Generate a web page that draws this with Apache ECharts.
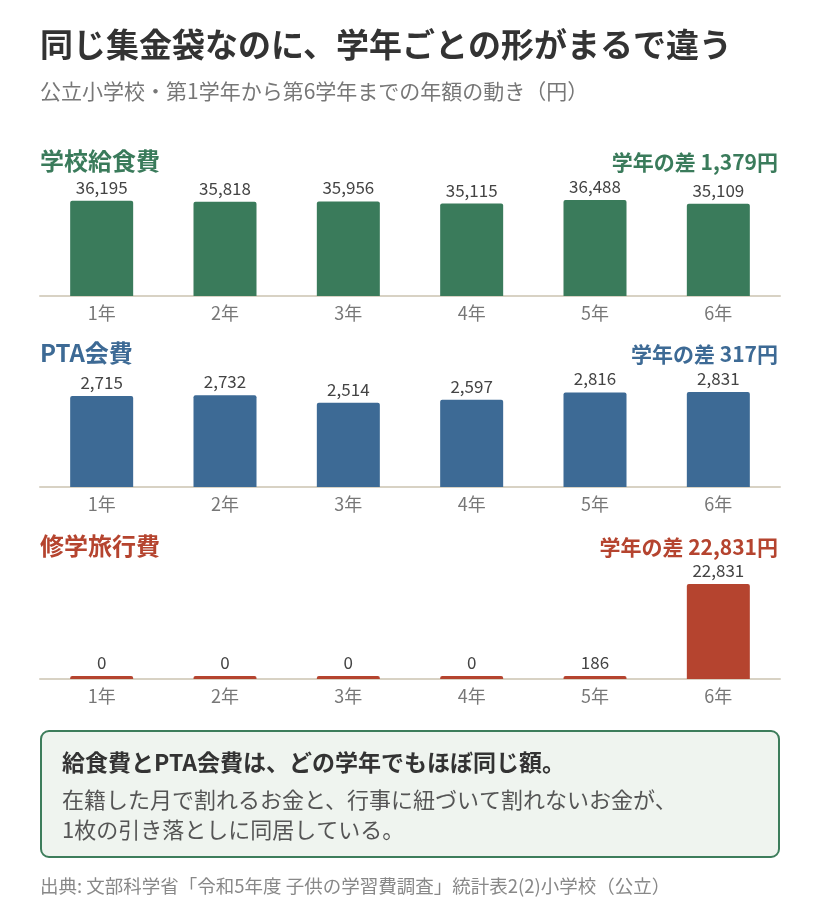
<!DOCTYPE html>
<html>
<head>
<meta charset="utf-8">
<title>学年ごとの集金額</title>
<script src="https://cdn.jsdelivr.net/npm/echarts@6/dist/echarts.min.js"></script>
<style>
  html, body { margin: 0; padding: 0; background: #fff; }
  #chart { width: 820px; height: 918px; }
</style>
</head>
<body>
<div id="chart"></div>
<script>
// 学年
var grades = ['1年', '2年', '3年', '4年', '5年', '6年'];
// 各費目の年額（円）
var lunchFee = [36195, 35818, 35956, 35115, 36488, 35109];
var ptaFee = [2715, 2732, 2514, 2597, 2816, 2831];
var tripFee = [0, 0, 0, 0, 186, 22831];

var FONT = '"Noto Sans CJK JP", "Noto Sans", sans-serif';

// 費目ごとの設定
var panels = [
    { name: '学校給食費', data: lunchFee, color: '#3a7b5b', top: 200, bottom: 622, head: 149 },
    { name: 'PTA会費', data: ptaFee, color: '#3d6a95', top: 392, bottom: 431, head: 341 },
    { name: '修学旅行費', data: tripFee, color: '#b5442f', top: 584, bottom: 239, head: 534 }
];

function fmt(v) {
    return v.toLocaleString('en-US');
}

var titles = [
    {
        text: '同じ集金袋なのに、学年ごとの形がまるで違う',
        left: 40, top: 28, padding: 0,
        textStyle: { fontFamily: FONT, fontSize: 33, fontWeight: 'bold', color: '#333' }
    },
    {
        text: '公立小学校・第1学年から第6学年までの年額の動き（円）',
        left: 40, top: 81, padding: 0,
        textStyle: { fontFamily: FONT, fontSize: 21, fontWeight: 'normal', color: '#777' }
    }
];
var grids = [], xAxes = [], yAxes = [], series = [];

panels.forEach(function(p, i) {
    var diff = Math.max.apply(null, p.data) - Math.min.apply(null, p.data);
    titles.push({
        text: p.name,
        left: 40, top: p.head, padding: 0,
        textStyle: { fontFamily: FONT, fontSize: 24, fontWeight: 'bold', color: p.color }
    });
    titles.push({
        text: '学年の差 ' + fmt(diff) + '円',
        right: 42, top: p.head + 3, padding: 0,
        textStyle: { fontFamily: FONT, fontSize: 21, fontWeight: 'bold', color: p.color }
    });
    grids.push({ left: 40, right: 40, top: p.top, bottom: p.bottom, containLabel: false });
    xAxes.push({
        type: 'category',
        gridIndex: i,
        data: grades,
        axisTick: { show: false },
        axisLine: { lineStyle: { color: '#d8d2c4', width: 2 } },
        axisLabel: { fontFamily: FONT, fontSize: 18, color: '#777', margin: 8 }
    });
    yAxes.push({
        type: 'value',
        gridIndex: i,
        min: 0,
        max: 'dataMax',
        show: false,
        splitLine: { show: false }
    });
    series.push({
        type: 'bar',
        xAxisIndex: i,
        yAxisIndex: i,
        data: p.data,
        barWidth: 63,
        barMinHeight: 3,
        itemStyle: { color: p.color, borderRadius: [2, 2, 0, 0] },
        label: {
            show: true,
            position: 'top',
            distance: 5,
            fontFamily: FONT,
            fontSize: 17,
            color: '#444',
            formatter: function(d) { return fmt(d.value); }
        },
        silent: true,
        animation: false
    });
});

var myChart = echarts.init(document.getElementById('chart'));
var option = {
    backgroundColor: '#fff',
    animation: false,
    title: titles,
    grid: grids,
    xAxis: xAxes,
    yAxis: yAxes,
    series: series,
    graphic: [
        {
            type: 'rect',
            shape: { x: 41, y: 731, width: 738, height: 126, r: 8 },
            style: { fill: '#eff4ef', stroke: '#3d7d5b', lineWidth: 2 }
        },
        {
            type: 'text', x: 62, y: 762,
            style: {
                text: '給食費とPTA会費は、どの学年でもほぼ同じ額。',
                font: 'bold 23px ' + FONT, fill: '#333', textVerticalAlign: 'middle'
            }
        },
        {
            type: 'text', x: 62, y: 800,
            style: {
                text: '在籍した月で割れるお金と、行事に紐づいて割れないお金が、',
                font: '22px ' + FONT, fill: '#555', textVerticalAlign: 'middle'
            }
        },
        {
            type: 'text', x: 62, y: 830,
            style: {
                text: '1枚の引き落としに同居している。',
                font: '22px ' + FONT, fill: '#555', textVerticalAlign: 'middle'
            }
        },
        {
            type: 'text', x: 40, y: 886,
            style: {
                text: '出典: 文部科学省「令和5年度 子供の学習費調査」統計表2(2)小学校（公立）',
                font: '18.5px ' + FONT, fill: '#888', textVerticalAlign: 'middle'
            }
        }
    ]
};
myChart.setOption(option);
</script>
</body>
</html>
